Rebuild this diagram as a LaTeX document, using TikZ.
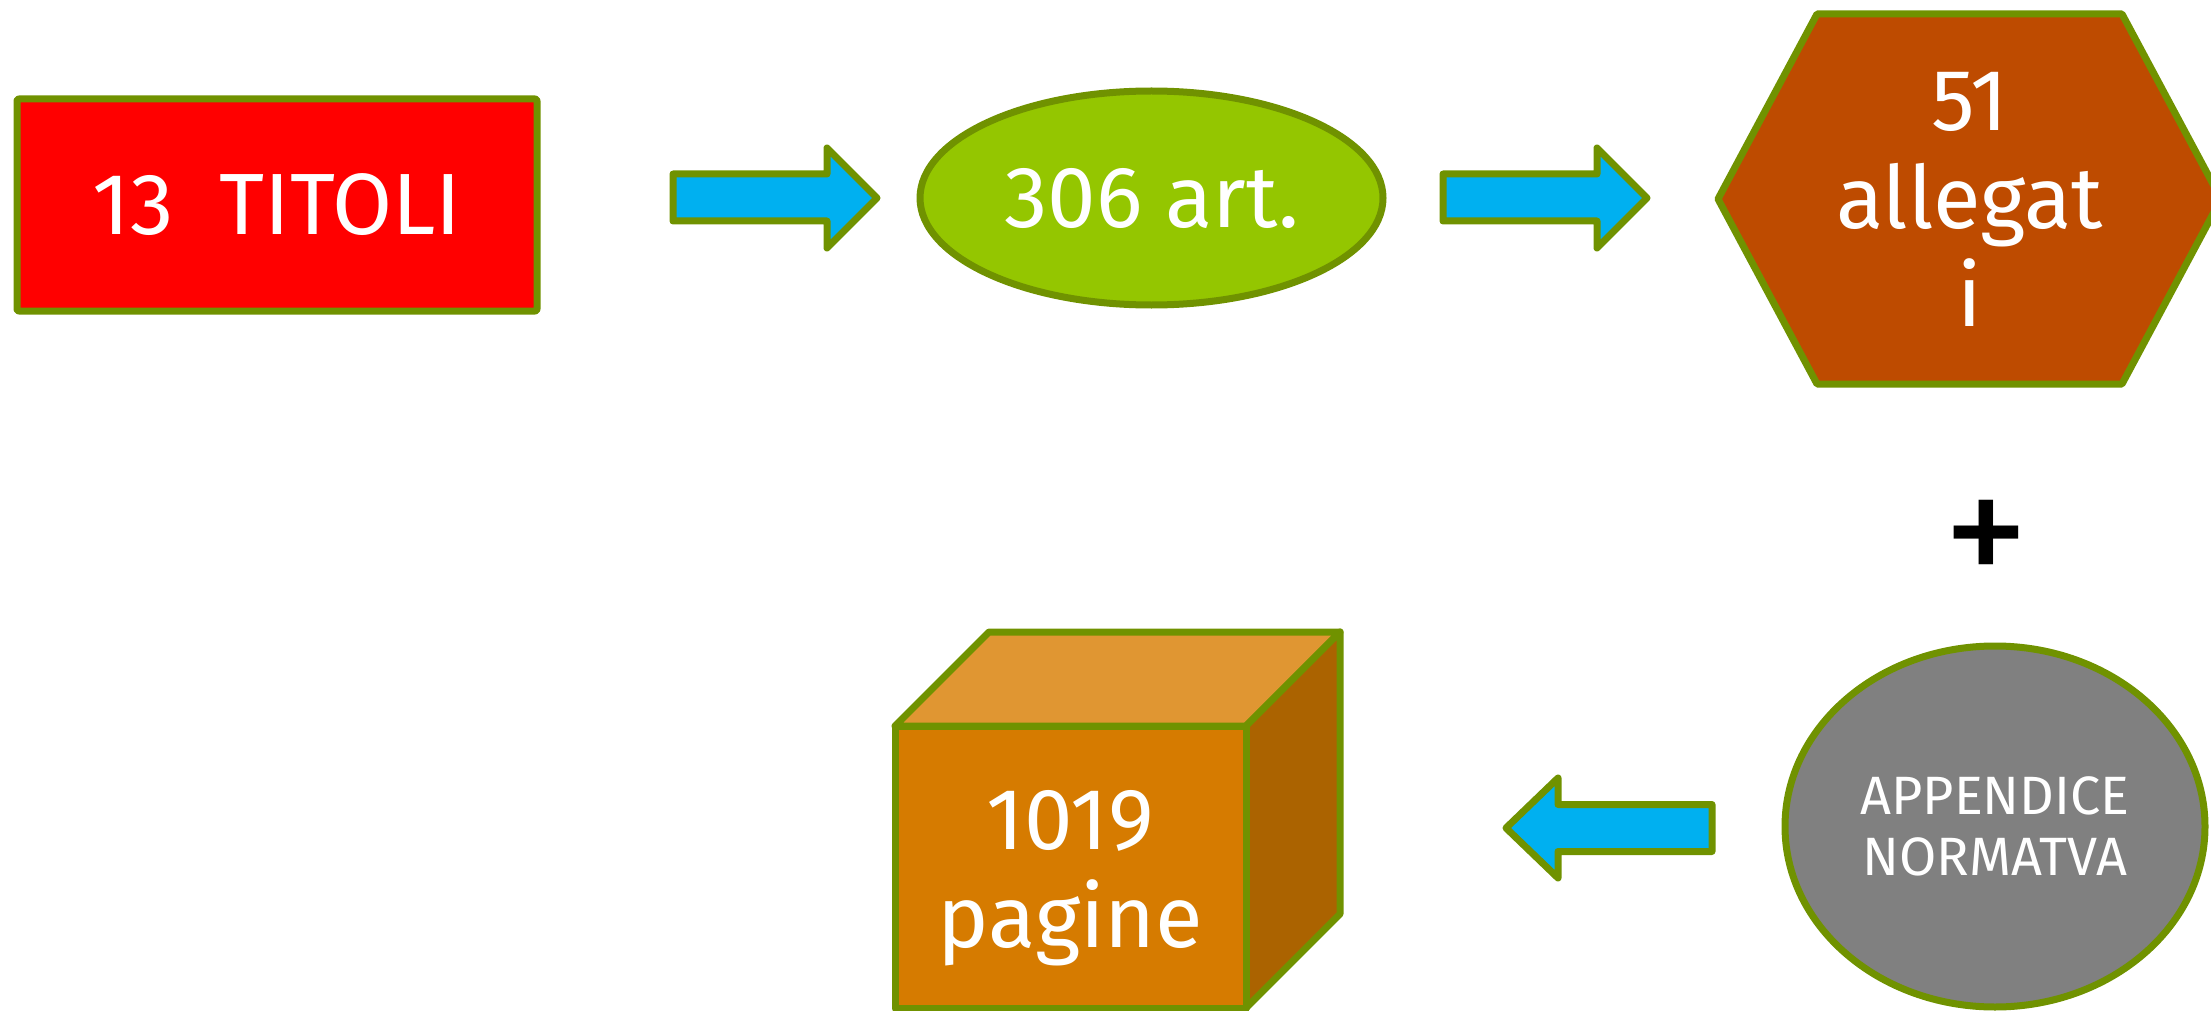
\documentclass[tikz,border=0pt]{standalone}
\usepackage{fontspec}
\setmainfont{Fira Sans}
\usetikzlibrary{shapes.geometric}
\definecolor{olivebd}{RGB}{112,146,0}
\definecolor{arrowblue}{RGB}{0,176,240}
\definecolor{limegreen}{RGB}{148,198,0}
\definecolor{rust}{RGB}{190,75,0}
\definecolor{cubefront}{RGB}{214,123,0}
\definecolor{cubetop}{RGB}{224,150,50}
\definecolor{cubeside}{RGB}{171,99,0}
\definecolor{greyfill}{RGB}{128,128,128}
\begin{document}
\begin{tikzpicture}[x=1pt,y=-1pt,
  bd/.style={draw=olivebd, line width=7pt, line join=round},
  bigtxt/.style={text=white, font=\fontsize{87}{98}\selectfont, align=center, inner sep=0pt},
  smalltxt/.style={text=white, font=\fontsize{54}{61}\selectfont, align=center, inner sep=0pt},
  blockarrow/.style={bd, fill=arrowblue}]
\clip (0,0) rectangle (2211,1011);
% red rectangle
\node[bd, fill=red, rectangle, rounded corners=2pt, minimum width=520pt, minimum height=212pt, inner sep=0pt] (titoli) at (277,205) {};
\node[bigtxt] (titolitxt) at (titoli.center) {13\ \ TITOLI};
% arrow 1
\draw[blockarrow] (673,174) -- (827,174) -- (827,148) -- (877,198) -- (827,248) -- (827,221) -- (673,221) -- cycle;
% green ellipse
\node[bd, fill=limegreen, ellipse, minimum width=463pt, minimum height=214pt, inner sep=0pt] (art) at (1151.5,198) {};
\node[bigtxt] (arttxt) at (art.center) {306 art.};
% arrow 2
\draw[blockarrow] (1443,174) -- (1597,174) -- (1597,148) -- (1647,198) -- (1597,248) -- (1597,221) -- (1443,221) -- cycle;
% hexagon
\coordinate (hexc) at (1969.5,199);
\draw[bd, fill=rust] (1718,199) -- (1817,14) -- (2122,14) -- (2221,199) -- (2122,384) -- (1817,384) -- cycle;
\node[bigtxt] (allegati) at (hexc) {51\\allegat\\i};
% plus
\node[text=black, font=\fontsize{172}{172}\selectfont, inner sep=0pt] (plus) at (1986,545) {+};
% appendix ellipse
\node[bd, fill=greyfill, ellipse, minimum width=420pt, minimum height=361pt, inner sep=0pt] (app) at (1995,826.5) {};
\node[smalltxt] (apptxt) at (app.center) {APPENDICE\\NORMATVA};
% arrow 3 (left)
\draw[blockarrow] (1712,804.5) -- (1558,804.5) -- (1558,778) -- (1506,828) -- (1558,878) -- (1558,851.5) -- (1712,851.5) -- cycle;
% cube
\draw[bd, fill=cubetop] (895,726) -- (989,632) -- (1340,632) -- (1246,726) -- cycle;
\draw[bd, fill=cubeside] (1246,726) -- (1340,632) -- (1340,914) -- (1246,1008) -- cycle;
\node[bd, fill=cubefront, rectangle, minimum width=351pt, minimum height=282pt, inner sep=0pt] (cube) at (1070.5,867) {};
\node[bigtxt] (cubetxt) at (1070.5,878.5) {1019\\pagine};
\end{tikzpicture}
\end{document}
